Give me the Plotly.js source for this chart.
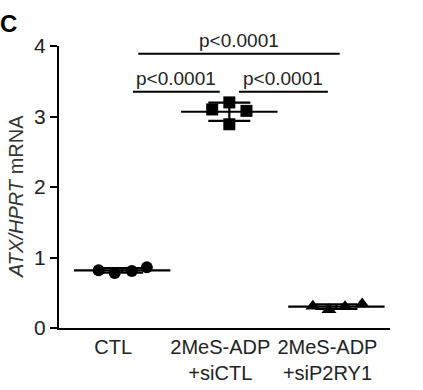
<!DOCTYPE html>
<html>
<head>
<meta charset="utf-8">
<script src="https://cdn.plot.ly/plotly-3.0.1.min.js"></script>
<style>html,body{margin:0;padding:0;background:#fff;}#chart{width:423px;height:390px;}</style>
</head>
<body>
<div id="chart"></div>
<script>
// ---- data ----
var categories = ["CTL", "2MeS-ADP<br>+siCTL", "2MeS-ADP<br>+siP2RY1"];
var valuesCTL = [0.82, 0.78, 0.81, 0.86];
var valuesSiCTL = [3.10, 3.20, 3.08, 2.89];
var valuesSiP2RY1 = [0.31, 0.26, 0.30, 0.34];
// horizontal scatter offsets of the dots within each group (category units)
var offsetsCTL = [-0.22, -0.07, 0.09, 0.23];
var offsetsSiCTL = [-0.16, 0.0, 0.16, 0.0];
var offsetsSiP2RY1 = [-0.22, -0.07, 0.08, 0.24];
var yTicks = [0, 1, 2, 3, 4];
var yTitle = "<i>ATX/HPRT</i> mRNA";
// significance brackets: [from, to, level]
var bracketFrom = [0.15, 0.10, 1.09];
var bracketTo = [2.03, 0.91, 1.92];
var bracketLevel = [3.89, 3.35, 3.35];
var bracketText = ["p<0.0001", "p<0.0001", "p<0.0001"];

function mean(a){return a.reduce(function(s,v){return s+v;},0)/a.length;}
function sd(a){var m=mean(a);return Math.sqrt(a.reduce(function(s,v){return s+(v-m)*(v-m);},0)/(a.length-1));}
function xs(idx, offs){return offs.map(function(o){return idx+o;});}

var groups = [valuesCTL, valuesSiCTL, valuesSiP2RY1];
var offsets = [offsetsCTL, offsetsSiCTL, offsetsSiP2RY1];
var symbols = ["circle", "square", "triangle-up"];
var sizes = [12, 12, 13];

var FONT = "Liberation Sans, Arial, sans-serif";
var traces = [];
// mean + SD
traces.push({
  type: "scatter", mode: "markers",
  x: [0, 1, 2], y: groups.map(mean),
  marker: {size: 1, color: "rgba(0,0,0,0)"},
  error_x: {type: "constant", value: 0.45, width: 0, thickness: 2.2, color: "#000"},
  error_y: {type: "data", array: groups.map(sd), width: 21, thickness: 2.2, color: "#000"},
  hoverinfo: "skip", showlegend: false, cliponaxis: false
});
groups.forEach(function(g, i){
  traces.push({
    type: "scatter", mode: "markers",
    x: xs(i, offsets[i]), y: g,
    marker: {symbol: symbols[i], size: sizes[i], color: "#000", line: {width: 0}},
    showlegend: false, cliponaxis: false
  });
});

var shapes = bracketFrom.map(function(f, i){
  return {type: "line", xref: "x", yref: "y", x0: f, x1: bracketTo[i], y0: bracketLevel[i], y1: bracketLevel[i], line: {color: "#000", width: 2}};
});
var annotations = bracketText.map(function(t, i){
  return {text: t, xref: "x", yref: "y", x: (bracketFrom[i] + bracketTo[i]) / 2, y: bracketLevel[i], yanchor: "bottom", yshift: 1, showarrow: false, font: {family: FONT, size: 19, color: "#222"}};
});
annotations.push({text: "<b>C</b>", xref: "paper", yref: "paper", x: -0.185, y: 1.08, xanchor: "left", yanchor: "middle", showarrow: false, font: {family: FONT, size: 24, color: "#000"}});
annotations.push({text: yTitle, xref: "paper", yref: "paper", x: -0.13, y: 0.468, xanchor: "center", yanchor: "middle", textangle: -90, showarrow: false, font: {family: FONT, size: 20, color: "#333"}});

var layout = {
  width: 423, height: 390,
  margin: {l: 59, r: 33, t: 46, b: 62},
  paper_bgcolor: "#fff", plot_bgcolor: "#fff",
  font: {family: FONT, size: 20, color: "#222"},
  showlegend: false,
  xaxis: {
    range: [-0.59, 2.5], tickmode: "array", tickvals: [0, 1, 2], ticktext: categories,
    showline: true, linecolor: "#000", linewidth: 2, ticks: "", showgrid: false, zeroline: false,
    tickfont: {size: 20, color: "#222"}, ticklabelshift: -9, automargin: false
  },
  yaxis: {
    range: [0, 4], tickmode: "array", tickvals: yTicks, ticktext: yTicks.map(String),
    showline: true, linecolor: "#000", linewidth: 2, ticks: "outside", ticklen: 7, tickwidth: 2, tickcolor: "#000",
    showgrid: false, zeroline: false, tickfont: {size: 21, color: "#222"}, automargin: false
  },
  shapes: shapes,
  annotations: annotations
};
Plotly.newPlot("chart", traces, layout, {staticPlot: true, displayModeBar: false});
</script>
</body>
</html>
